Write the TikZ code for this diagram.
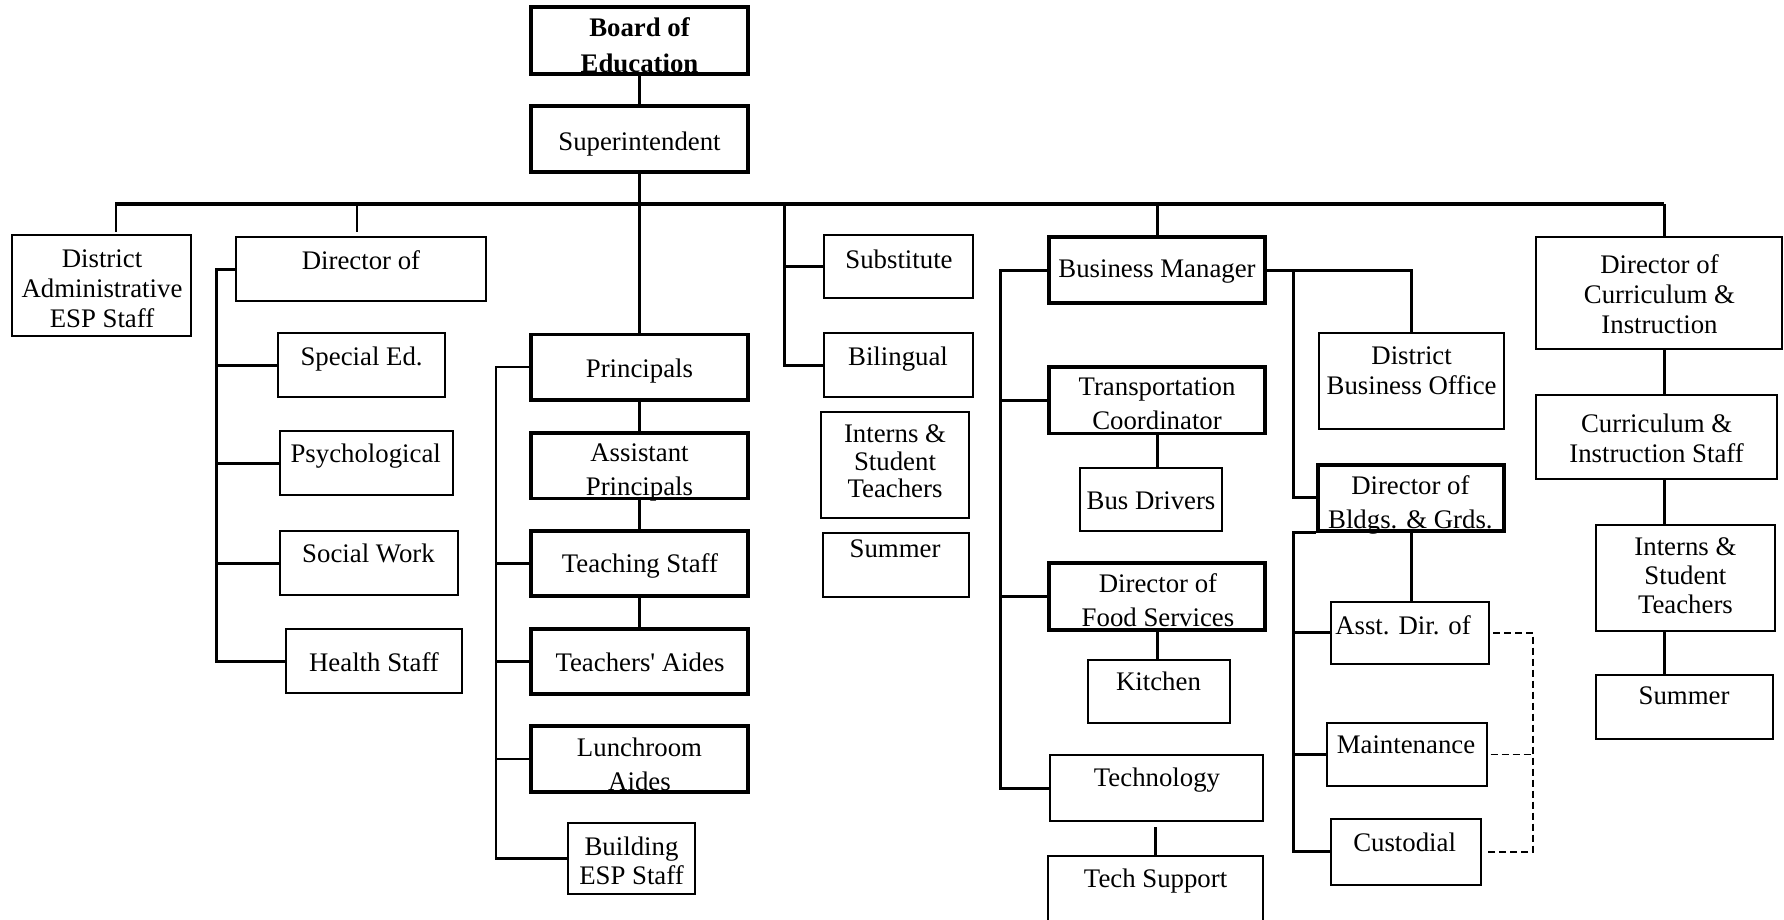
\documentclass[tikz,border=0pt]{standalone}
\usepackage{fontspec}
\setmainfont{Liberation Serif}
\usetikzlibrary{fit}
\begin{document}
\begin{tikzpicture}[x=1pt,y=-1pt,
  thinbox/.style={draw, line width=2pt, inner sep=0pt, rectangle},
  thickbox/.style={draw, line width=3.6pt, inner sep=0pt, rectangle},
  lbl/.style={inner sep=0pt, anchor=north, align=center, font=\fontsize{26.8}{30}\selectfont},
  lblw/.style={lbl, font=\fontsize{26.8}{34}\selectfont},
  lbln/.style={lbl, font=\fontsize{26.8}{27.5}\selectfont},
  conn/.style={line width=3pt},
  thinconn/.style={line width=2.2pt},
  busline/.style={line width=3.6pt},
  dashconn/.style={line width=1.8pt, dash pattern=on 7pt off 4pt}
]
\useasboundingbox (0,0) rectangle (1784,920);
\fill[white] (0,0) rectangle (1784,920);
\clip (0,0) rectangle (1784,920);

% ---------- boxes ----------
\node[thickbox, fit={(531,7)(748,74)}] (board) {};
\node[thickbox, fit={(531,106)(748,172)}] (sup) {};
\node[thinbox, fit={(12,235)(191,336)}] (dadmin) {};
\node[thinbox, fit={(236,237)(486,301)}] (dirof) {};
\node[thinbox, fit={(278,333)(445,397)}] (sped) {};
\node[thinbox, fit={(280,431)(453,495)}] (psych) {};
\node[thinbox, fit={(280,531)(457.5,595)}] (social) {};
\node[thinbox, fit={(286,629)(461.5,693)}] (health) {};
\node[thickbox, fit={(531,334.5)(748,400)}] (princ) {};
\node[thickbox, fit={(531,433)(748,498.5)}] (asst) {};
\node[thickbox, fit={(531,531)(748,596)}] (teach) {};
\node[thickbox, fit={(531,629)(748,694)}] (taides) {};
\node[thickbox, fit={(531,726)(748,792)}] (lunch) {};
\node[thinbox, fit={(568,823)(694.6,894)}] (building) {};
\node[thinbox, fit={(824,235)(973,298)}] (subst) {};
\node[thinbox, fit={(824,333)(973,397)}] (biling) {};
\node[thinbox, fit={(821,412)(969,518)}] (internsM) {};
\node[thinbox, fit={(823,533)(969,597)}] (summerM) {};
\node[thickbox, fit={(1049,237)(1265,303)}] (bm) {};
\node[thickbox, fit={(1049,367)(1265,433.5)}] (trans) {};
\node[thinbox, fit={(1079.5,467.7)(1222,531)}] (busdrv) {};
\node[thickbox, fit={(1049,563)(1265,630)}] (food) {};
\node[thinbox, fit={(1087.5,660)(1230,723)}] (kitchen) {};
\node[thinbox, fit={(1049.5,755)(1263,821)}] (tech) {};
\node[thinbox, fit={(1048,855.6)(1263,930)}] (techsup) {};
\node[thinbox, fit={(1319,333)(1504,429)}] (dbo) {};
\node[thickbox, fit={(1318,464.7)(1504,531)}] (dbg) {};
\node[thinbox, fit={(1331,601.6)(1489,663.7)}] (asstdir) {};
\node[thinbox, fit={(1327,722.8)(1486.5,786)}] (maint) {};
\node[thinbox, fit={(1331,819)(1481,884.5)}] (cust) {};
\node[thinbox, fit={(1536,237)(1782,349)}] (dci) {};
\node[thinbox, fit={(1536,395)(1777,479)}] (cistaff) {};
\node[thinbox, fit={(1595.5,525)(1775,631)}] (internsR) {};
\node[thinbox, fit={(1595.5,674.6)(1773,738.6)}] (summerR) {};

% ---------- labels ----------
\node[lbl, font=\fontsize{26.8}{36}\selectfont\bfseries] (board-t) at (639.5,17.5) {Board of\\Education};
\node[lbl] (sup-t) at (639.5,131.5) {Superintendent};
\node[lbl] (dadmin-t) at (102,249.5) {District\\Administrative\\ESP Staff};
\node[lbl] (dirof-t) at (361,250.5) {Director of};
\node[lbl] (sped-t) at (361.6,346.5) {Special Ed.};
\node[lbl] (psych-t) at (365.7,444.2) {Psychological};
\node[lbl] (social-t) at (368.5,544) {Social Work};
\node[lbl] (health-t) at (374,652.3) {Health Staff};
\node[lbl] (princ-t) at (639.5,358.5) {Principals};
\node[lblw] (asst-t) at (639.5,443.1) {Assistant\\Principals};
\node[lbl] (teach-t) at (640,553.3) {Teaching Staff};
\node[lbl] (taides-t) at (640,652.3) {Teachers\textquotesingle{} Aides};
\node[lblw] (lunch-t) at (639.5,737.5) {Lunchroom\\Aides};
\node[lbl, font=\fontsize{26.8}{29}\selectfont] (building-t) at (631.5,836.5) {Building\\ESP Staff};
\node[lbl] (subst-t) at (899,249.5) {Substitute};
\node[lbl] (biling-t) at (898,346.5) {Bilingual};
\node[lbln] (internsM-t) at (895,424.5) {Interns \&\\Student\\Teachers};
\node[lbl] (summerM-t) at (895,539.5) {Summer};
\node[lbl] (bm-t) at (1157,259.5) {Business Manager};
\node[lblw] (trans-t) at (1157,377.5) {Transportation\\Coordinator};
\node[lbl] (busdrv-t) at (1151,492) {Bus Drivers};
\node[lblw] (food-t) at (1158,573.3) {Director of\\Food Services};
\node[lbl] (kitchen-t) at (1158.5,671.5) {Kitchen};
\node[lbl] (tech-t) at (1157,767.5) {Technology};
\node[lbl] (techsup-t) at (1155.6,868.5) {Tech Support};
\node[lbl] (dbo-t) at (1411.6,346.5) {District\\Business Office};
\node[lblw] (dbg-t) at (1410.4,475.5) {Director of\\Bldgs. \& Grds.};
\node[lbl] (asstdir-t) at (1403,615.5) {Asst. Dir. of};
\node[lbl] (maint-t) at (1406,735.1) {Maintenance};
\node[lbl] (cust-t) at (1404.6,832.5) {Custodial};
\node[lbl] (dci-t) at (1659.5,254.5) {Director of\\Curriculum \&\\Instruction};
\node[lbl] (cistaff-t) at (1656.6,414.2) {Curriculum \&\\Instruction Staff};
\node[lbl, font=\fontsize{26.8}{29}\selectfont] (internsR-t) at (1685.4,537.8) {Interns \&\\Student\\Teachers};
\node[lbl] (summerR-t) at (1684,686.9) {Summer};

% ---------- junction coordinates ----------
\coordinate (busL) at (116,204);
\coordinate (busR) at (1664,204);
\coordinate (jDir) at (357,204);
\coordinate (jSub) at (784,204);
\coordinate (dirB) at (216,269);
\coordinate (pB) at (496,367);
\coordinate (bmL) at (1000,270);
\coordinate (bmR) at (1293,270);
\coordinate (dR) at (1533,625);

% ---------- connectors ----------
\draw[conn] (board.south) -- (sup.north);
\draw[conn] (sup.south) -- (princ.north);
\draw[busline] (busL) -- (busR);
\draw[thinconn] ([yshift=2pt]busL) -- ([yshift=2pt]dadmin.north -| busL);
\draw[thinconn] (jDir) -- ([yshift=4pt]dirof.north -| jDir);
\draw[conn] (jSub) |- (biling.west);
\draw[conn] (subst.west -| jSub) -- (subst.west);
\draw[conn] (bm.north |- busR) -- (bm.north);
\draw[conn] (busR) -- (busR |- dci.north);

% Director of bracket
\draw[conn] (dirof.west) -- (dirof.west -| dirB) |- (health.west);
\draw[conn] (dirB |- sped.west) -- (sped.west);
\draw[conn] (dirB |- psych.west) -- (psych.west);
\draw[conn] (dirB |- social.west) -- (social.west);

% Principals
\draw[thinconn] (princ.west) -- (princ.west -| pB) |- (building.west);
\draw[thinconn] (pB |- teach.west) -- (teach.west);
\draw[thinconn] (pB |- taides.west) -- (taides.west);
\draw[thinconn] (pB |- lunch.west) -- (lunch.west);
\draw[conn] (princ.south) -- (asst.north);
\draw[conn] (asst.south) -- (teach.north);
\draw[conn] (teach.south) -- (taides.north);

% Business manager
\draw[conn] (bm.west) -- (bm.west -| bmL) |- (tech.west);
\draw[conn] (bmL |- trans.west) -- (trans.west);
\draw[conn] (bmL |- food.west) -- (food.west);
\draw[conn] (bm.east) -- (bm.east -| bmR) -- (bm.east -| dbo.north) -- (dbo.north);
\draw[conn] (bm.east -| bmR) |- (dbg.west);
\draw[conn] (trans.south) -- (trans.south |- busdrv.north);
\draw[conn] (food.south) -- (food.south |- kitchen.north);
\draw[conn] ([yshift=-5pt]techsup.north |- tech.south) -- (techsup.north);

% Buildings & grounds
\draw[conn] (dbg.south west) -- (dbg.south west -| bmR) |- (cust.west);
\draw[conn] (bmR |- asstdir.west) -- (asstdir.west);
\draw[conn] (bmR |- maint.west) -- (maint.west);
\draw[conn] (dbg.south) -- (dbg.south |- asstdir.north);
\draw[dashconn] ([xshift=3pt]asstdir.east) -| (dR |- cust.east) -- ([xshift=3pt]cust.east);
\draw[dashconn] ([xshift=3pt]maint.east) -- (maint.east -| dR);

% Curriculum column
\draw[conn] (dci.south -| busR) -- (cistaff.north -| busR);
\draw[conn] (cistaff.south -| busR) -- (internsR.north -| busR);
\draw[conn] (internsR.south -| busR) -- (summerR.north -| busR);
\end{tikzpicture}
\end{document}
